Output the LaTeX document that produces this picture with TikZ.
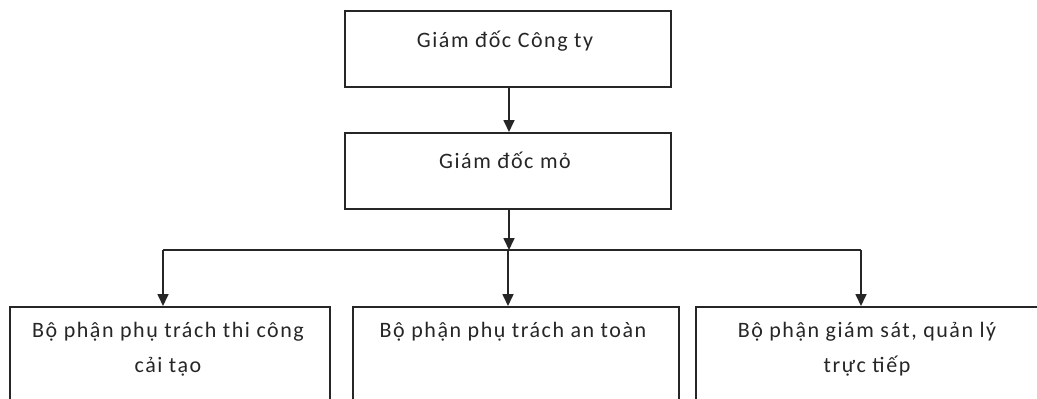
\documentclass[tikz,border=0pt]{standalone}
\usepackage{fontspec}
\setmainfont{Carlito}[LetterSpace=7]
\usetikzlibrary{arrows.meta}
\begin{document}
\begin{tikzpicture}[x=1pt,y=-1pt,
  box/.style={draw=black!85,line width=1.7pt,rectangle,inner sep=0pt,anchor=north west},
  lbl/.style={font=\fontsize{22}{35}\selectfont,text=black!85,align=center,inner sep=0pt,anchor=base},
  conn/.style={draw=black!85,line width=1.7pt},
  arr/.style={conn,-{Triangle[length=12pt,width=11pt]}}]
\clip (0,0) rectangle (1037,399);
\fill[white] (0,0) rectangle (1037,399);
% boxes
\node[box,minimum width=326pt,minimum height=76pt] (top) at (344,10) {};
\node[box,minimum width=326pt,minimum height=76pt] (mid) at (344,132) {};
\node[box,minimum width=320pt,minimum height=120pt] (b1) at (9,306) {};
\node[box,minimum width=326pt,minimum height=120pt] (b2) at (352,306) {};
\node[box,minimum width=345pt,minimum height=120pt] (b3) at (695,306) {};
% texts
\node[lbl] (ttop) at (505,47) {Giám đốc Công ty};
\node[lbl] (tmid) at (505,168) {Giám đốc mỏ};
\node[lbl] (t1) at (168,372) {Bộ phận phụ trách thi công\\cải tạo};
\node[lbl] (t2) at (513,337) {Bộ phận phụ trách an toàn};
\node[lbl] (t3) at (867,372) {Bộ phận giám sát, quản lý\\trực tiếp};
% connectors
\coordinate (j) at (509,250);
\coordinate (jl) at (163,250);
\coordinate (jm) at (508,250);
\coordinate (jr) at (861,250);
\draw[arr] (509,86) coordinate (ts) -- (ts |- mid.north);
\draw[arr] (mid.south -| j) -- (j);
\draw[conn] (jl) -- (jr);
\draw[arr] (jl) -- (jl |- b1.north);
\draw[arr] (jm) -- (jm |- b2.north);
\draw[arr] (jr) -- (jr |- b3.north);
\end{tikzpicture}
\end{document}
